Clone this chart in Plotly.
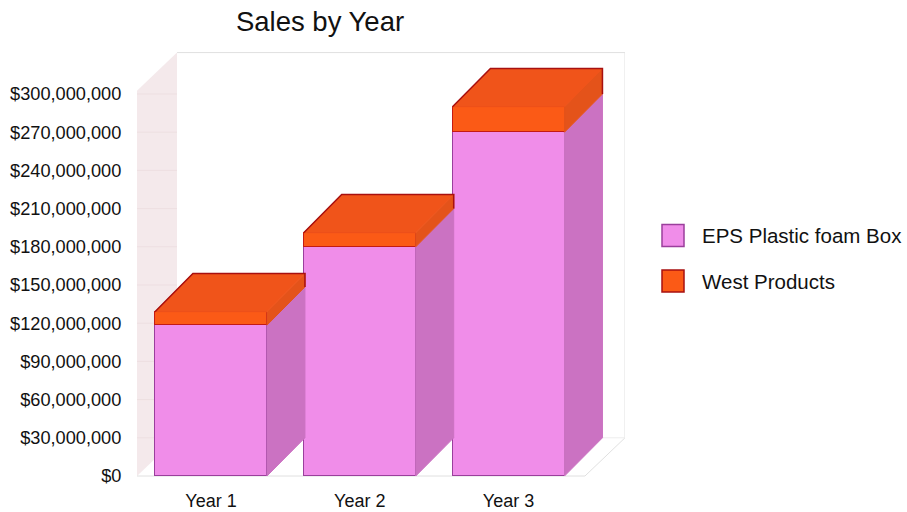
import plotly.graph_objects as go

# Sales figures in dollars
years = ["Year 1", "Year 2", "Year 3"]
eps_sales = [118_500_000, 180_000_000, 270_000_000]
west_sales = [10_500_000, 11_000_000, 20_000_000]
y_ticks = list(range(0, 300_000_001, 30_000_000))
y_tick_labels = [f"${v:,}" for v in y_ticks]
series_names = ["EPS Plastic foam Box", "West Products"]

# Oblique projection: how far the back of the box is shifted on each axis
DEPTH_X = 0.255
DEPTH_Y = 30_000_000
BAR_W = 0.753
FONT = "Liberation Sans"
TEXT = "#111111"

# Plot area (pixels) and its data ranges
W, H = 907, 512
M_L, M_R, M_T, M_B = 137, 282, 48, 32
X_RANGE = [-0.4975, 2.783]
Y_RANGE = [-3_140_000, 336_100_000]

EPS_FRONT, EPS_SIDE, EPS_EDGE = "#F08DE9", "#CB72C2", "#9A3F9C"
WEST_FRONT, WEST_TOP, WEST_SIDE, WEST_EDGE = "#FB5A16", "#F0541A", "#E4531A", "#A81010"

fig = go.Figure()

# Front faces are ordinary stacked bars
for name, vals, color, edge in [
    (series_names[0], eps_sales, EPS_FRONT, EPS_EDGE),
    (series_names[1], west_sales, WEST_FRONT, "#C41A14"),
]:
    fig.add_trace(go.Bar(
        x=list(range(len(years))), y=vals, name=name, width=BAR_W,
        marker=dict(color=color, line=dict(color=edge, width=1)),
        showlegend=False,
    ))


def add_face(xs, ys, fill, edge):
    fig.add_trace(go.Scatter(
        x=xs, y=ys, mode="lines", fill="toself", fillcolor=fill,
        line=dict(color=edge, width=1), showlegend=False, hoverinfo="skip",
    ))


# Side and top faces derived from the same values as the bars
for i, (eps, west) in enumerate(zip(eps_sales, west_sales)):
    left = i - BAR_W / 2
    right = i + BAR_W / 2
    total = eps + west
    add_face([right, right + DEPTH_X, right + DEPTH_X, right, right],
             [0, DEPTH_Y, eps + DEPTH_Y, eps, 0], EPS_SIDE, EPS_SIDE)
    add_face([right, right + DEPTH_X, right + DEPTH_X, right, right],
             [eps, eps + DEPTH_Y, total + DEPTH_Y, total, eps], WEST_SIDE, WEST_SIDE)
    add_face([left, left + DEPTH_X, right + DEPTH_X, right, left],
             [total, total + DEPTH_Y, total + DEPTH_Y, total, total], WEST_TOP, WEST_TOP)
    # Dark rim along the far edges of the box top
    fig.add_trace(go.Scatter(
        x=[left, left + DEPTH_X, right + DEPTH_X, right + DEPTH_X],
        y=[total, total + DEPTH_Y, total + DEPTH_Y, eps + DEPTH_Y],
        mode="lines", line=dict(color=WEST_EDGE, width=1.5),
        showlegend=False, hoverinfo="skip",
    ))

# Box walls behind the bars
wall_left = X_RANGE[0]
wall_back = wall_left + 0.269
wall_right = X_RANGE[1]
floor_right = wall_right - 0.269
wall_top = 302_500_000 + DEPTH_Y
shapes = [
    dict(type="path", layer="below", xref="x", yref="y",
         path=f"M{wall_left},0 L{wall_back},{DEPTH_Y} L{wall_back},{wall_top} "
              f"L{wall_left},302500000 Z",
         fillcolor="#F4E9EB", line=dict(width=0)),
    dict(type="path", layer="below", xref="x", yref="y",
         path=f"M{wall_back},{wall_top} L{wall_right},{wall_top} L{wall_right},{DEPTH_Y} "
              f"L{floor_right},0 L{wall_left},0",
         fillcolor="rgba(0,0,0,0)", line=dict(color="#E0E0E0", width=1)),
    dict(type="line", layer="below", xref="x", yref="y",
         x0=wall_back, x1=wall_right, y0=DEPTH_Y, y1=DEPTH_Y,
         line=dict(color="#EDEDED", width=1)),
]
# Faint horizontal banding on the side wall, one band per tick
for v in y_ticks[1:]:
    shapes.append(dict(type="line", layer="below", xref="x", yref="y",
                       x0=wall_left, x1=wall_back, y0=v, y1=v,
                       line=dict(color="#EDDFE1", width=1)))

# Legend swatches and labels
legend_rows = [
    (series_names[0], EPS_FRONT, EPS_EDGE, 235.5),
    (series_names[1], WEST_FRONT, WEST_EDGE, 281),
]
annotations = []
for name, color, edge, py in legend_rows:
    shapes.append(dict(type="rect", xref="paper", yref="paper",
                       x0=(662 - M_L) / (W - M_L - M_R), x1=(684 - M_L) / (W - M_L - M_R),
                       y0=(H - M_B - py - 11) / (H - M_T - M_B),
                       y1=(H - M_B - py + 11) / (H - M_T - M_B),
                       fillcolor=color, line=dict(color=edge, width=1.5)))
    annotations.append(dict(text=name, xref="paper", yref="paper", showarrow=False,
                            x=(700 - M_L) / (W - M_L - M_R), xanchor="left",
                            y=(H - M_B - py) / (H - M_T - M_B), yanchor="middle",
                            font=dict(family=FONT, size=20.5, color=TEXT)))

fig.update_layout(
    width=W, height=H, barmode="stack", bargap=0,
    margin=dict(l=M_L, r=M_R, t=M_T, b=M_B, autoexpand=False),
    paper_bgcolor="white", plot_bgcolor="white",
    title=dict(text="Sales by Year", x=320 / W, xanchor="center",
               y=1 - 21 / H, yanchor="middle",
               font=dict(family=FONT, size=27.5, color=TEXT)),
    xaxis=dict(range=X_RANGE, tickmode="array", tickvals=list(range(len(years))),
               ticktext=years, showgrid=False, zeroline=False, showline=False,
               ticks="outside", ticklen=4, tickcolor="rgba(0,0,0,0)",
               tickfont=dict(family=FONT, size=18, color=TEXT)),
    yaxis=dict(range=Y_RANGE, tickmode="array", tickvals=y_ticks,
               ticktext=y_tick_labels, showgrid=False, zeroline=False, showline=False,
               ticks="outside", ticklen=11, tickcolor="rgba(0,0,0,0)",
               tickfont=dict(family=FONT, size=18.2, color=TEXT)),
    shapes=shapes, annotations=annotations,
)

fig.write_html("out.html", config={"displayModeBar": False})
